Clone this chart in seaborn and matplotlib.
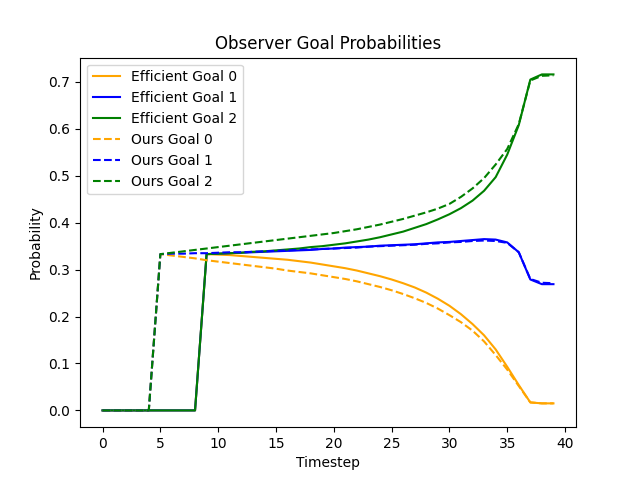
import matplotlib
matplotlib.use("Agg")
import matplotlib.pyplot as plt
import seaborn as sns
import numpy as np

timesteps = list(range(40))

efficient_goal0 = [0.0] * 9 + [
    0.333, 0.332, 0.331, 0.329, 0.327, 0.325, 0.323, 0.321, 0.318, 0.315,
    0.311, 0.307, 0.303, 0.298, 0.292, 0.286, 0.279, 0.271, 0.262, 0.251,
    0.238, 0.223, 0.205, 0.184, 0.160, 0.130, 0.093, 0.054, 0.017, 0.015,
    0.015]
efficient_goal1 = [0.0] * 9 + [
    0.333, 0.334, 0.335, 0.336, 0.337, 0.338, 0.339, 0.340, 0.341, 0.342,
    0.344, 0.345, 0.347, 0.348, 0.349, 0.351, 0.352, 0.353, 0.354, 0.356,
    0.358, 0.359, 0.361, 0.363, 0.365, 0.364, 0.358, 0.337, 0.279, 0.269,
    0.269]
efficient_goal2 = [0.0] * 9 + [
    0.333, 0.334, 0.335, 0.336, 0.338, 0.339, 0.341, 0.343, 0.345, 0.348,
    0.350, 0.353, 0.356, 0.360, 0.364, 0.369, 0.375, 0.381, 0.389, 0.397,
    0.407, 0.418, 0.431, 0.447, 0.468, 0.497, 0.545, 0.608, 0.705, 0.716,
    0.716]

ours_goal0 = [0.0] * 5 + [
    0.333, 0.330, 0.327, 0.324, 0.320, 0.317, 0.314, 0.311, 0.308, 0.305,
    0.302, 0.298, 0.295, 0.292, 0.288, 0.284, 0.280, 0.275, 0.269, 0.263,
    0.256, 0.248, 0.239, 0.229, 0.217, 0.203, 0.188, 0.170, 0.147, 0.118,
    0.087, 0.052, 0.017, 0.015, 0.015]
ours_goal1 = [0.0] * 5 + [
    0.333, 0.334, 0.334, 0.335, 0.335, 0.336, 0.337, 0.337, 0.338, 0.339,
    0.340, 0.341, 0.342, 0.343, 0.344, 0.345, 0.346, 0.347, 0.349, 0.350,
    0.351, 0.352, 0.353, 0.355, 0.356, 0.358, 0.359, 0.361, 0.362, 0.361,
    0.357, 0.337, 0.280, 0.272, 0.271]
ours_goal2 = [0.0] * 5 + [
    0.333, 0.336, 0.339, 0.342, 0.345, 0.348, 0.351, 0.354, 0.357, 0.360,
    0.363, 0.366, 0.369, 0.372, 0.375, 0.378, 0.382, 0.386, 0.391, 0.396,
    0.402, 0.408, 0.415, 0.422, 0.430, 0.440, 0.455, 0.473, 0.495, 0.524,
    0.557, 0.610, 0.703, 0.713, 0.714]

goal_colors = ["orange", "blue", "green"]

fig, ax = plt.subplots(figsize=(6.4, 4.8), dpi=100)

for i, vals in enumerate([efficient_goal0, efficient_goal1, efficient_goal2]):
    sns.lineplot(x=timesteps, y=vals, color=goal_colors[i], linestyle="-",
                 label=f"Efficient Goal {i}", ax=ax)

for i, vals in enumerate([ours_goal0, ours_goal1, ours_goal2]):
    sns.lineplot(x=timesteps, y=vals, color=goal_colors[i], linestyle="--",
                 label=f"Ours Goal {i}", ax=ax)

ax.set_title("Observer Goal Probabilities")
ax.set_xlabel("Timestep")
ax.set_ylabel("Probability")
ax.legend(loc="upper left")

plt.savefig("out.png")
plt.close()
